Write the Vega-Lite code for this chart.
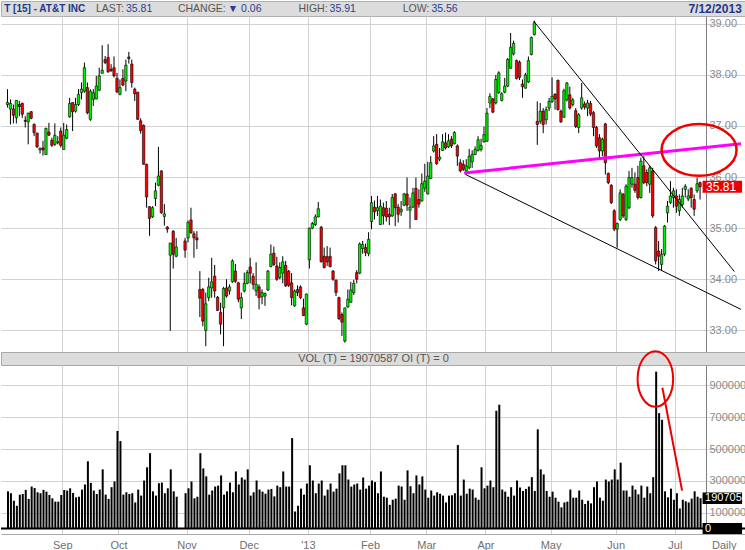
{
"$schema":"https://vega.github.io/schema/vega-lite/v6.json",
"padding":0,"background":"white","spacing":0,"bounds":"flush",
"config":{"view":{"stroke":null},"axis":{"labelFont":"Liberation Sans","titleFont":"Liberation Sans"},"text":{"font":"Liberation Sans"}},
"datasets":{
"hdr":[{"key":"name","lab":"T [15] - AT&T INC"},{"key":"last","lab":"LAST:","val":"35.81"},{"key":"change","lab":"CHANGE:","val":"▼ 0.06"},{"key":"high","lab":"HIGH:","val":"35.91"},{"key":"low","lab":"LOW:","val":"35.56"},{"key":"date","lab":"7/12/2013"}],
"volhdr":[{"t":"VOL (T) = 19070587 OI (T) = 0"}],
"pink":[{"i":155.3,"p":36.08},{"i":248.83,"p":36.65}],
"trend":[{"id":"a","i":178.83,"p":39.05},{"id":"a","i":246.6,"p":34.15},{"id":"b","i":155.8,"p":36.05},{"id":"b","i":248.83,"p":33.41}],
"ring":[{"i":234.67,"p":36.53}],
"vring":[{"i":219.9,"v":941000}],
"varrow":[{"i":222.27,"v":885500},{"i":228.93,"v":238500}],
"oi":[{"i":235,"oi":0}],
"ohlc":[
{"d":"2012-08-07","o":37.42,"h":37.72,"l":37.36,"c":37.46,"v":234000},
{"d":"2012-08-08","o":37.33,"h":37.52,"l":37.03,"c":37.44,"v":222000},
{"d":"2012-08-09","o":37.33,"h":37.42,"l":37.05,"c":37.21,"v":175000},
{"d":"2012-08-10","o":37.16,"h":37.5,"l":37.05,"c":37.5,"v":143000},
{"d":"2012-08-13","o":37.42,"h":37.49,"l":37.19,"c":37.38,"v":213000},
{"d":"2012-08-14","o":37.44,"h":37.46,"l":37.16,"c":37.23,"v":217000},
{"d":"2012-08-15","o":37.11,"h":37.19,"l":36.97,"c":37.09,"v":243000},
{"d":"2012-08-16","o":37.08,"h":37.26,"l":36.64,"c":37.25,"v":186000},
{"d":"2012-08-17","o":37.28,"h":37.29,"l":37.13,"c":37.15,"v":264000},
{"d":"2012-08-20","o":37.03,"h":37.05,"l":36.8,"c":36.87,"v":255000},
{"d":"2012-08-21","o":36.86,"h":36.87,"l":36.57,"c":36.59,"v":228000},
{"d":"2012-08-22","o":36.53,"h":36.58,"l":36.46,"c":36.56,"v":222000},
{"d":"2012-08-23","o":36.57,"h":36.71,"l":36.42,"c":36.53,"v":243000},
{"d":"2012-08-24","o":36.44,"h":36.97,"l":36.44,"c":36.95,"v":232000},
{"d":"2012-08-27","o":36.88,"h":37.06,"l":36.8,"c":36.82,"v":211000},
{"d":"2012-08-28","o":36.72,"h":36.77,"l":36.59,"c":36.62,"v":190000},
{"d":"2012-08-29","o":36.64,"h":37.05,"l":36.61,"c":36.82,"v":169000},
{"d":"2012-08-30","o":36.67,"h":36.8,"l":36.64,"c":36.69,"v":169000},
{"d":"2012-08-31","o":36.9,"h":36.97,"l":36.58,"c":36.62,"v":211000},
{"d":"2012-09-04","o":36.54,"h":37.06,"l":36.54,"c":36.82,"v":243000},
{"d":"2012-09-05","o":36.76,"h":37.03,"l":36.74,"c":36.93,"v":239000},
{"d":"2012-09-06","o":37.18,"h":37.55,"l":37.16,"c":37.44,"v":253000},
{"d":"2012-09-07","o":37.46,"h":37.46,"l":36.9,"c":37.28,"v":224000},
{"d":"2012-09-10","o":37.29,"h":37.55,"l":37.26,"c":37.42,"v":196000},
{"d":"2012-09-11","o":37.42,"h":37.72,"l":37.39,"c":37.62,"v":200000},
{"d":"2012-09-12","o":37.65,"h":37.85,"l":37.52,"c":37.72,"v":245000},
{"d":"2012-09-13","o":37.68,"h":38.24,"l":37.65,"c":38.14,"v":277000},
{"d":"2012-09-14","o":37.75,"h":37.85,"l":37.23,"c":37.26,"v":423000},
{"d":"2012-09-17","o":37.13,"h":37.72,"l":37.1,"c":37.68,"v":287000},
{"d":"2012-09-18","o":37.52,"h":37.72,"l":37.39,"c":37.65,"v":239000},
{"d":"2012-09-19","o":37.53,"h":37.98,"l":37.52,"c":37.78,"v":217000},
{"d":"2012-09-20","o":37.7,"h":38.14,"l":37.68,"c":37.98,"v":245000},
{"d":"2012-09-21","o":38.03,"h":38.58,"l":38.03,"c":38.09,"v":372000},
{"d":"2012-09-24","o":38.3,"h":38.37,"l":38.21,"c":38.24,"v":213000},
{"d":"2012-09-25","o":38.34,"h":38.6,"l":38.04,"c":38.06,"v":186000},
{"d":"2012-09-26","o":38.11,"h":38.21,"l":38.06,"c":38.08,"v":260000},
{"d":"2012-09-27","o":38.14,"h":38.36,"l":37.95,"c":37.98,"v":296000},
{"d":"2012-09-28","o":37.93,"h":38.04,"l":37.64,"c":37.67,"v":614000},
{"d":"2012-10-01","o":37.62,"h":37.91,"l":37.6,"c":37.75,"v":550000},
{"d":"2012-10-02","o":37.93,"h":38.11,"l":37.78,"c":37.8,"v":213000},
{"d":"2012-10-03","o":37.88,"h":38.3,"l":37.68,"c":38.19,"v":228000},
{"d":"2012-10-04","o":38.35,"h":38.45,"l":38.22,"c":38.32,"v":217000},
{"d":"2012-10-05","o":38.21,"h":38.3,"l":37.75,"c":37.85,"v":222000},
{"d":"2012-10-08","o":37.72,"h":37.75,"l":37.49,"c":37.63,"v":164000},
{"d":"2012-10-09","o":37.66,"h":37.67,"l":37.12,"c":37.13,"v":245000},
{"d":"2012-10-10","o":37.1,"h":37.15,"l":36.85,"c":36.91,"v":207000},
{"d":"2012-10-11","o":37.01,"h":37.03,"l":36.24,"c":36.25,"v":302000},
{"d":"2012-10-12","o":36.25,"h":36.26,"l":35.4,"c":35.61,"v":385000},
{"d":"2012-10-15","o":35.42,"h":35.43,"l":34.85,"c":35.19,"v":474000},
{"d":"2012-10-16","o":35.22,"h":35.43,"l":35.2,"c":35.4,"v":234000},
{"d":"2012-10-17","o":35.58,"h":35.89,"l":35.43,"c":35.73,"v":207000},
{"d":"2012-10-18","o":35.84,"h":36.59,"l":35.82,"c":36.02,"v":285000},
{"d":"2012-10-19","o":36.12,"h":36.13,"l":35.28,"c":35.3,"v":289000},
{"d":"2012-10-22","o":35.23,"h":35.47,"l":35.05,"c":35.28,"v":222000},
{"d":"2012-10-23","o":35.02,"h":35.04,"l":34.91,"c":34.98,"v":253000},
{"d":"2012-10-24","o":34.47,"h":34.71,"l":32.99,"c":34.71,"v":372000},
{"d":"2012-10-25","o":34.94,"h":34.96,"l":34.21,"c":34.49,"v":234000},
{"d":"2012-10-26","o":34.45,"h":34.81,"l":34.43,"c":34.63,"v":200000},
{"d":"2012-10-29","o":null,"h":null,"l":null,"c":null,"v":null},
{"d":"2012-10-30","o":null,"h":null,"l":null,"c":null,"v":null},
{"d":"2012-10-31","o":34.75,"h":34.81,"l":34.42,"c":34.57,"v":222000},
{"d":"2012-11-01","o":34.81,"h":35.15,"l":34.72,"c":35.11,"v":253000},
{"d":"2012-11-02","o":35.16,"h":35.4,"l":34.89,"c":34.91,"v":296000},
{"d":"2012-11-05","o":34.89,"h":34.94,"l":34.42,"c":34.81,"v":190000},
{"d":"2012-11-06","o":34.81,"h":34.94,"l":34.59,"c":34.77,"v":200000},
{"d":"2012-11-07","o":33.8,"h":34.16,"l":33.26,"c":33.63,"v":474000},
{"d":"2012-11-08","o":33.8,"h":33.83,"l":33.08,"c":33.18,"v":378000},
{"d":"2012-11-09","o":33.0,"h":33.74,"l":32.69,"c":33.52,"v":328000},
{"d":"2012-11-12","o":33.64,"h":34.03,"l":33.57,"c":33.85,"v":213000},
{"d":"2012-11-13","o":33.83,"h":34.42,"l":33.64,"c":33.95,"v":239000},
{"d":"2012-11-14","o":34.06,"h":34.28,"l":33.64,"c":33.77,"v":264000},
{"d":"2012-11-15","o":33.65,"h":33.67,"l":33.38,"c":33.39,"v":270000},
{"d":"2012-11-16","o":33.35,"h":33.54,"l":32.92,"c":33.12,"v":334000},
{"d":"2012-11-19","o":33.44,"h":33.85,"l":32.69,"c":33.82,"v":213000},
{"d":"2012-11-20","o":33.83,"h":34.0,"l":33.64,"c":33.67,"v":234000},
{"d":"2012-11-21","o":33.77,"h":33.9,"l":33.7,"c":33.85,"v":289000},
{"d":"2012-11-23","o":33.95,"h":34.39,"l":33.93,"c":34.36,"v":228000},
{"d":"2012-11-26","o":34.16,"h":34.3,"l":33.93,"c":33.96,"v":359000},
{"d":"2012-11-27","o":33.93,"h":33.95,"l":33.55,"c":33.61,"v":277000},
{"d":"2012-11-28","o":33.44,"h":33.74,"l":33.22,"c":33.64,"v":321000},
{"d":"2012-11-29","o":33.77,"h":34.13,"l":33.74,"c":33.92,"v":308000},
{"d":"2012-11-30","o":33.92,"h":34.18,"l":33.9,"c":34.13,"v":372000},
{"d":"2012-12-03","o":34.24,"h":34.42,"l":33.92,"c":34.12,"v":207000},
{"d":"2012-12-04","o":34.06,"h":34.12,"l":33.8,"c":33.9,"v":228000},
{"d":"2012-12-05","o":33.77,"h":34.33,"l":33.67,"c":33.9,"v":302000},
{"d":"2012-12-06","o":33.85,"h":33.9,"l":33.41,"c":33.64,"v":245000},
{"d":"2012-12-07","o":33.66,"h":33.8,"l":33.51,"c":33.74,"v":232000},
{"d":"2012-12-10","o":33.67,"h":33.74,"l":33.48,"c":33.72,"v":219000},
{"d":"2012-12-11","o":33.79,"h":34.18,"l":33.77,"c":34.16,"v":245000},
{"d":"2012-12-12","o":34.25,"h":34.68,"l":34.23,"c":34.49,"v":249000},
{"d":"2012-12-13","o":34.51,"h":34.64,"l":34.26,"c":34.29,"v":202000},
{"d":"2012-12-14","o":34.26,"h":34.44,"l":33.97,"c":34.0,"v":270000},
{"d":"2012-12-17","o":34.03,"h":34.33,"l":34.0,"c":34.23,"v":260000},
{"d":"2012-12-18","o":34.12,"h":34.45,"l":33.92,"c":34.34,"v":359000},
{"d":"2012-12-19","o":34.27,"h":34.36,"l":33.85,"c":33.87,"v":264000},
{"d":"2012-12-20","o":34.16,"h":34.18,"l":33.85,"c":33.88,"v":264000},
{"d":"2012-12-21","o":33.93,"h":34.12,"l":33.49,"c":33.64,"v":569000},
{"d":"2012-12-24","o":33.48,"h":33.8,"l":33.46,"c":33.77,"v":107000},
{"d":"2012-12-26","o":33.8,"h":33.88,"l":33.67,"c":33.74,"v":143000},
{"d":"2012-12-27","o":33.85,"h":33.88,"l":33.61,"c":33.64,"v":251000},
{"d":"2012-12-28","o":33.44,"h":33.62,"l":33.28,"c":33.29,"v":213000},
{"d":"2012-12-31","o":33.12,"h":33.72,"l":33.1,"c":33.71,"v":283000},
{"d":"2013-01-02","o":34.38,"h":35.01,"l":34.21,"c":35.0,"v":398000},
{"d":"2013-01-03","o":35.0,"h":35.12,"l":34.98,"c":35.09,"v":302000},
{"d":"2013-01-04","o":35.07,"h":35.27,"l":35.04,"c":35.22,"v":222000},
{"d":"2013-01-07","o":35.22,"h":35.51,"l":35.21,"c":35.38,"v":283000},
{"d":"2013-01-08","o":35.02,"h":35.04,"l":34.33,"c":34.34,"v":302000},
{"d":"2013-01-09","o":34.45,"h":34.62,"l":34.21,"c":34.23,"v":207000},
{"d":"2013-01-10","o":34.44,"h":34.65,"l":34.26,"c":34.34,"v":245000},
{"d":"2013-01-11","o":34.45,"h":34.62,"l":34.23,"c":34.25,"v":283000},
{"d":"2013-01-14","o":34.16,"h":34.18,"l":33.97,"c":34.0,"v":232000},
{"d":"2013-01-15","o":33.98,"h":34.0,"l":33.67,"c":33.74,"v":251000},
{"d":"2013-01-16","o":33.64,"h":33.66,"l":33.2,"c":33.23,"v":347000},
{"d":"2013-01-17","o":33.31,"h":33.35,"l":32.89,"c":33.16,"v":398000},
{"d":"2013-01-18","o":32.79,"h":33.44,"l":32.76,"c":33.44,"v":398000},
{"d":"2013-01-22","o":33.46,"h":33.8,"l":33.44,"c":33.61,"v":308000},
{"d":"2013-01-23","o":33.55,"h":33.95,"l":33.54,"c":33.79,"v":264000},
{"d":"2013-01-24","o":33.74,"h":33.99,"l":33.69,"c":33.92,"v":277000},
{"d":"2013-01-25","o":34.13,"h":34.18,"l":33.92,"c":34.0,"v":283000},
{"d":"2013-01-28","o":34.12,"h":34.72,"l":34.1,"c":34.69,"v":245000},
{"d":"2013-01-29","o":34.6,"h":34.75,"l":34.5,"c":34.68,"v":321000},
{"d":"2013-01-30","o":34.62,"h":34.7,"l":34.45,"c":34.52,"v":251000},
{"d":"2013-01-31","o":34.5,"h":34.92,"l":34.45,"c":34.78,"v":270000},
{"d":"2013-02-01","o":35.13,"h":35.63,"l":34.98,"c":35.5,"v":302000},
{"d":"2013-02-04","o":35.41,"h":35.54,"l":35.17,"c":35.32,"v":292000},
{"d":"2013-02-05","o":35.34,"h":35.63,"l":35.24,"c":35.4,"v":222000},
{"d":"2013-02-06","o":35.07,"h":35.56,"l":35.06,"c":35.43,"v":359000},
{"d":"2013-02-07","o":35.4,"h":35.5,"l":35.07,"c":35.24,"v":200000},
{"d":"2013-02-08","o":35.39,"h":35.53,"l":35.13,"c":35.22,"v":194000},
{"d":"2013-02-11","o":35.27,"h":35.4,"l":35.06,"c":35.22,"v":149000},
{"d":"2013-02-12","o":35.24,"h":35.67,"l":35.22,"c":35.6,"v":181000},
{"d":"2013-02-13","o":35.67,"h":35.69,"l":35.04,"c":35.4,"v":188000},
{"d":"2013-02-14","o":35.41,"h":35.47,"l":35.11,"c":35.27,"v":270000},
{"d":"2013-02-15","o":35.32,"h":35.53,"l":35.24,"c":35.37,"v":264000},
{"d":"2013-02-19","o":35.45,"h":35.69,"l":35.43,"c":35.67,"v":181000},
{"d":"2013-02-20","o":35.67,"h":35.99,"l":35.34,"c":35.45,"v":366000},
{"d":"2013-02-21","o":35.35,"h":35.6,"l":34.99,"c":35.41,"v":266000},
{"d":"2013-02-22","o":35.41,"h":35.79,"l":35.4,"c":35.69,"v":222000},
{"d":"2013-02-25","o":35.78,"h":35.99,"l":35.16,"c":35.17,"v":334000},
{"d":"2013-02-26","o":35.56,"h":35.76,"l":35.4,"c":35.47,"v":277000},
{"d":"2013-02-27","o":35.53,"h":36.07,"l":35.52,"c":35.87,"v":328000},
{"d":"2013-02-28","o":35.78,"h":36.26,"l":35.71,"c":35.92,"v":245000},
{"d":"2013-03-01","o":35.67,"h":36.3,"l":35.66,"c":36.02,"v":194000},
{"d":"2013-03-04","o":35.97,"h":36.41,"l":35.96,"c":36.28,"v":239000},
{"d":"2013-03-05","o":36.51,"h":36.8,"l":36.48,"c":36.61,"v":207000},
{"d":"2013-03-06","o":36.64,"h":36.84,"l":36.24,"c":36.26,"v":228000},
{"d":"2013-03-07","o":36.35,"h":36.57,"l":36.31,"c":36.39,"v":219000},
{"d":"2013-03-08","o":36.52,"h":36.84,"l":36.51,"c":36.69,"v":207000},
{"d":"2013-03-11","o":36.67,"h":36.87,"l":36.54,"c":36.57,"v":164000},
{"d":"2013-03-12","o":36.59,"h":36.84,"l":36.57,"c":36.71,"v":207000},
{"d":"2013-03-13","o":36.74,"h":36.8,"l":36.57,"c":36.61,"v":209000},
{"d":"2013-03-14","o":36.65,"h":36.9,"l":36.64,"c":36.87,"v":222000},
{"d":"2013-03-15","o":36.61,"h":36.64,"l":36.22,"c":36.41,"v":525000},
{"d":"2013-03-18","o":36.28,"h":36.35,"l":36.09,"c":36.12,"v":207000},
{"d":"2013-03-19","o":36.25,"h":36.33,"l":36.12,"c":36.15,"v":308000},
{"d":"2013-03-20","o":36.12,"h":36.35,"l":36.05,"c":36.22,"v":219000},
{"d":"2013-03-21","o":36.18,"h":36.55,"l":36.15,"c":36.41,"v":251000},
{"d":"2013-03-22","o":36.3,"h":36.52,"l":36.18,"c":36.44,"v":245000},
{"d":"2013-03-25","o":36.44,"h":36.6,"l":36.43,"c":36.54,"v":194000},
{"d":"2013-03-26","o":36.52,"h":36.8,"l":36.5,"c":36.73,"v":181000},
{"d":"2013-03-27","o":36.54,"h":36.75,"l":36.5,"c":36.62,"v":385000},
{"d":"2013-03-28","o":36.69,"h":36.99,"l":36.67,"c":36.83,"v":253000},
{"d":"2013-04-01","o":36.7,"h":37.35,"l":36.69,"c":37.25,"v":270000},
{"d":"2013-04-02","o":37.45,"h":37.64,"l":37.35,"c":37.58,"v":302000},
{"d":"2013-04-03","o":37.53,"h":37.55,"l":37.25,"c":37.27,"v":260000},
{"d":"2013-04-04","o":37.45,"h":38.0,"l":37.42,"c":37.91,"v":741000},
{"d":"2013-04-05","o":37.65,"h":38.07,"l":37.63,"c":38.04,"v":779000},
{"d":"2013-04-08","o":37.5,"h":37.66,"l":37.48,"c":37.63,"v":245000},
{"d":"2013-04-09","o":37.66,"h":37.94,"l":37.64,"c":37.78,"v":232000},
{"d":"2013-04-10","o":37.78,"h":38.33,"l":37.76,"c":38.3,"v":200000},
{"d":"2013-04-11","o":38.13,"h":38.82,"l":38.12,"c":38.54,"v":260000},
{"d":"2013-04-12","o":38.41,"h":38.67,"l":38.38,"c":38.62,"v":207000},
{"d":"2013-04-15","o":38.28,"h":38.3,"l":37.91,"c":37.93,"v":302000},
{"d":"2013-04-16","o":38.25,"h":38.28,"l":37.9,"c":37.95,"v":258000},
{"d":"2013-04-17","o":37.82,"h":37.91,"l":37.55,"c":37.77,"v":236000},
{"d":"2013-04-18","o":37.74,"h":38.04,"l":37.73,"c":38.0,"v":249000},
{"d":"2013-04-19","o":37.86,"h":38.36,"l":37.84,"c":38.28,"v":264000},
{"d":"2013-04-22","o":38.4,"h":38.75,"l":38.38,"c":38.73,"v":323000},
{"d":"2013-04-23","o":38.79,"h":39.06,"l":38.77,"c":39.02,"v":236000},
{"d":"2013-04-24","o":37.09,"h":37.48,"l":36.63,"c":37.03,"v":624000},
{"d":"2013-04-25","o":37.09,"h":37.45,"l":37.04,"c":37.29,"v":372000},
{"d":"2013-04-26","o":37.29,"h":37.35,"l":36.86,"c":37.03,"v":340000},
{"d":"2013-04-29","o":37.12,"h":37.38,"l":37.03,"c":37.32,"v":236000},
{"d":"2013-04-30","o":37.35,"h":37.55,"l":37.29,"c":37.48,"v":200000},
{"d":"2013-05-01","o":37.48,"h":37.95,"l":37.45,"c":37.58,"v":232000},
{"d":"2013-05-02","o":37.62,"h":37.64,"l":37.32,"c":37.53,"v":194000},
{"d":"2013-05-03","o":37.89,"h":37.91,"l":37.3,"c":37.32,"v":169000},
{"d":"2013-05-06","o":37.29,"h":37.32,"l":37.06,"c":37.08,"v":133000},
{"d":"2013-05-07","o":37.17,"h":37.73,"l":37.16,"c":37.69,"v":164000},
{"d":"2013-05-08","o":37.51,"h":37.86,"l":37.48,"c":37.84,"v":169000},
{"d":"2013-05-09","o":37.61,"h":37.77,"l":37.32,"c":37.35,"v":245000},
{"d":"2013-05-10","o":37.42,"h":37.55,"l":37.38,"c":37.51,"v":194000},
{"d":"2013-05-13","o":37.3,"h":37.35,"l":36.96,"c":36.99,"v":194000},
{"d":"2013-05-14","o":36.97,"h":37.25,"l":36.86,"c":37.22,"v":239000},
{"d":"2013-05-15","o":37.35,"h":37.84,"l":37.32,"c":37.55,"v":181000},
{"d":"2013-05-16","o":37.43,"h":37.48,"l":37.32,"c":37.37,"v":154000},
{"d":"2013-05-17","o":37.35,"h":37.51,"l":37.19,"c":37.45,"v":175000},
{"d":"2013-05-20","o":37.44,"h":37.49,"l":37.19,"c":37.23,"v":158000},
{"d":"2013-05-21","o":37.26,"h":37.29,"l":36.8,"c":36.97,"v":260000},
{"d":"2013-05-22","o":36.97,"h":37.0,"l":36.57,"c":36.61,"v":296000},
{"d":"2013-05-23","o":36.77,"h":36.84,"l":36.35,"c":36.51,"v":194000},
{"d":"2013-05-24","o":36.51,"h":36.77,"l":36.41,"c":36.74,"v":175000},
{"d":"2013-05-28","o":37.04,"h":37.06,"l":36.05,"c":36.28,"v":308000},
{"d":"2013-05-29","o":36.07,"h":36.09,"l":35.86,"c":35.89,"v":296000},
{"d":"2013-05-30","o":35.84,"h":35.86,"l":35.47,"c":35.5,"v":308000},
{"d":"2013-05-31","o":35.34,"h":35.37,"l":34.94,"c":34.98,"v":372000},
{"d":"2013-06-03","o":34.98,"h":35.11,"l":34.62,"c":35.09,"v":308000},
{"d":"2013-06-04","o":35.17,"h":35.76,"l":35.14,"c":35.69,"v":414000},
{"d":"2013-06-05","o":35.66,"h":35.69,"l":35.2,"c":35.24,"v":239000},
{"d":"2013-06-06","o":35.17,"h":35.86,"l":35.14,"c":35.82,"v":239000},
{"d":"2013-06-07","o":35.4,"h":36.12,"l":35.37,"c":35.99,"v":200000},
{"d":"2013-06-10","o":35.86,"h":36.18,"l":35.79,"c":35.99,"v":270000},
{"d":"2013-06-11","o":35.86,"h":36.09,"l":35.69,"c":35.74,"v":245000},
{"d":"2013-06-12","o":35.99,"h":36.22,"l":35.56,"c":35.6,"v":215000},
{"d":"2013-06-13","o":35.6,"h":36.38,"l":35.58,"c":36.31,"v":270000},
{"d":"2013-06-14","o":36.22,"h":36.41,"l":35.86,"c":35.89,"v":194000},
{"d":"2013-06-17","o":36.09,"h":36.15,"l":35.82,"c":35.89,"v":264000},
{"d":"2013-06-18","o":35.86,"h":36.22,"l":35.69,"c":36.18,"v":222000},
{"d":"2013-06-19","o":36.12,"h":36.18,"l":35.2,"c":35.24,"v":323000},
{"d":"2013-06-20","o":35.01,"h":35.04,"l":34.29,"c":34.36,"v":987000},
{"d":"2013-06-21","o":34.55,"h":34.75,"l":34.16,"c":34.45,"v":726000},
{"d":"2013-06-24","o":34.29,"h":34.59,"l":34.16,"c":34.49,"v":684000},
{"d":"2013-06-25","o":34.49,"h":35.06,"l":34.45,"c":35.04,"v":234000},
{"d":"2013-06-26","o":35.3,"h":35.53,"l":35.11,"c":35.43,"v":196000},
{"d":"2013-06-27","o":35.5,"h":35.92,"l":35.47,"c":35.63,"v":251000},
{"d":"2013-06-28","o":35.6,"h":35.79,"l":35.4,"c":35.73,"v":181000},
{"d":"2013-07-01","o":35.63,"h":35.76,"l":35.3,"c":35.43,"v":222000},
{"d":"2013-07-02","o":35.34,"h":35.66,"l":35.24,"c":35.56,"v":126000},
{"d":"2013-07-03","o":35.46,"h":35.79,"l":35.4,"c":35.63,"v":181000},
{"d":"2013-07-05","o":35.76,"h":35.86,"l":35.6,"c":35.82,"v":171000},
{"d":"2013-07-08","o":35.57,"h":35.76,"l":35.53,"c":35.63,"v":164000},
{"d":"2013-07-09","o":35.78,"h":35.8,"l":35.4,"c":35.6,"v":188000},
{"d":"2013-07-10","o":35.56,"h":35.66,"l":35.24,"c":35.37,"v":234000},
{"d":"2013-07-11","o":35.73,"h":35.99,"l":35.69,"c":35.87,"v":200000},
{"d":"2013-07-12","o":35.89,"h":35.91,"l":35.56,"c":35.81,"v":190705}
]},
"vconcat":[
{"width":745,"height":15,"view":{"fill":"#dcdcdc","stroke":"#b0b0b0"},
 "data":{"name":"hdr"},
 "layer":[
  {"transform":[{"filter":"datum.key == 'name'"}],
   "mark":{"type":"text","align":"left","dx":-13,"fontWeight":"bold","fontSize":10,"color":"#22378a"},
   "encoding":{"x":{"field":"key","type":"nominal","scale":{"type":"point","domain":["name","last","change","high","low","g5","g6","date"],"padding":0.159},"axis":null},"text":{"field":"lab"}}},
  {"transform":[{"filter":"datum.val != null"}],
   "mark":{"type":"text","align":"right","dx":5,"fontSize":10.5,"color":"#555555"},
   "encoding":{"x":{"field":"key","type":"nominal","scale":{"type":"point","domain":["name","last","change","high","low","g5","g6","date"],"padding":0.159},"axis":null},"text":{"field":"lab"}}},
  {"transform":[{"filter":"datum.val != null"}],
   "mark":{"type":"text","align":"left","dx":7,"fontSize":10.5,"color":"#2a3c94"},
   "encoding":{"x":{"field":"key","type":"nominal","scale":{"type":"point","domain":["name","last","change","high","low","g5","g6","date"],"padding":0.159},"axis":null},"text":{"field":"val"}}},
  {"transform":[{"filter":"datum.key == 'date'"}],
   "mark":{"type":"text","align":"right","dx":12,"fontWeight":"bold","fontSize":12,"color":"#22378a"},
   "encoding":{"x":{"field":"key","type":"nominal","scale":{"type":"point","domain":["name","last","change","high","low","g5","g6","date"],"padding":0.159},"axis":null},"text":{"field":"lab"}}}
 ]},
{"width":745,"height":336,
 "layer":[
  {"data":{"name":"ohlc"},"transform":[{"window":[{"op":"row_number","as":"i"}]},{"filter":"datum.o != null"}],
   "mark":{"type":"rule","color":"#000000","strokeWidth":1},
   "encoding":{
    "x":{"field":"i","type":"quantitative","scale":{"domain":[0.5,248.8333],"nice":false,"zero":false},
         "axis":{"values":[19.5,38.5,61.5,82.5,102.5,123.5,142.5,162.5,184.5,206.5,226.5],"grid":true,"gridColor":"#d2d2d2","labels":false,"ticks":false,"domain":false,"title":null}},
    "y":{"field":"l","type":"quantitative","scale":{"domain":[32.576,39.152],"nice":false,"zero":false},
         "axis":{"orient":"right","offset":-40,"values":[33,33.5,34,34.5,35,35.5,36,36.5,37,37.5,38,38.5,39],"format":".2f","grid":true,"gridColor":"#d2d2d2","ticks":false,"domain":true,"domainColor":"#808080","labelColor":"#8a8a8a","labelFontSize":11,"labelPadding":3,"title":null}},
    "y2":{"field":"h"}}},
  {"data":{"name":"ohlc"},"transform":[{"window":[{"op":"row_number","as":"i"}]},{"filter":"datum.o != null"}],
   "mark":{"type":"bar","width":2.4,"stroke":"#000000","strokeWidth":0.6,"opacity":1},
   "encoding":{
    "x":{"field":"i","type":"quantitative","scale":{"domain":[0.5,248.8333],"nice":false,"zero":false}},
    "y":{"field":"o","type":"quantitative","scale":{"domain":[32.576,39.152],"nice":false,"zero":false}},
    "y2":{"field":"c"},
    "fill":{"condition":{"test":"datum.c >= datum.o","value":"#00f000"},"value":"#ff0000"}}},
  {"data":{"name":"pink"},"mark":{"type":"line","color":"#ff00ff","strokeWidth":3},
   "encoding":{"x":{"field":"i","type":"quantitative","scale":{"domain":[0.5,248.8333],"nice":false,"zero":false}},
    "y":{"field":"p","type":"quantitative","scale":{"domain":[32.576,39.152],"nice":false,"zero":false}}}},
  {"data":{"name":"trend"},"mark":{"type":"line","color":"#000000","strokeWidth":1},
   "encoding":{"x":{"field":"i","type":"quantitative","scale":{"domain":[0.5,248.8333],"nice":false,"zero":false}},
    "y":{"field":"p","type":"quantitative","scale":{"domain":[32.576,39.152],"nice":false,"zero":false}},
    "detail":{"field":"id"}}},
  {"data":{"name":"ring"},"mark":{"type":"point","filled":false,"color":"#ee0000","strokeWidth":2.5,"opacity":1,"size":5625,
    "shape":"M-1,0 C-1,-0.381 -0.552,-0.69 0,-0.69 C0.552,-0.69 1,-0.381 1,0 C1,0.381 0.552,0.69 0,0.69 C-0.552,0.69 -1,0.381 -1,0 Z"},
   "encoding":{"x":{"field":"i","type":"quantitative","scale":{"domain":[0.5,248.8333],"nice":false,"zero":false}},
    "y":{"field":"p","type":"quantitative","scale":{"domain":[32.576,39.152],"nice":false,"zero":false}}}},
  {"data":{"name":"ohlc"},"transform":[{"window":[{"op":"row_number","as":"i"}]},{"filter":"datum.i == 235"}],
   "mark":{"type":"point","filled":true,"color":"#ee0000","opacity":1,"size":1600,"shape":"M0.125,-0.3L2.1,-0.3L2.1,0.3L0.125,0.3Z"},
   "encoding":{"x":{"field":"i","type":"quantitative","scale":{"domain":[0.5,248.8333],"nice":false,"zero":false}},
    "y":{"field":"c","type":"quantitative","scale":{"domain":[32.576,39.152],"nice":false,"zero":false}}}},
  {"data":{"name":"ohlc"},"transform":[{"window":[{"op":"row_number","as":"i"}]},{"filter":"datum.i == 235"}],
   "mark":{"type":"text","align":"left","dx":6,"fontSize":12,"color":"#ffffff"},
   "encoding":{"x":{"field":"i","type":"quantitative","scale":{"domain":[0.5,248.8333],"nice":false,"zero":false}},
    "y":{"field":"c","type":"quantitative","scale":{"domain":[32.576,39.152],"nice":false,"zero":false}},
    "text":{"field":"c","format":".2f"}}}
 ]},
{"width":745,"height":13,"view":{"fill":"#dcdcdc","stroke":"#a8a8a8"},
 "data":{"name":"volhdr"},
 "mark":{"type":"text","fontSize":11,"color":"#555555"},
 "encoding":{"text":{"field":"t"}}},
{"width":745,"height":169,
 "layer":[
  {"data":{"name":"ohlc"},"transform":[{"window":[{"op":"row_number","as":"i"}]},{"filter":"datum.v != null"}],
   "mark":{"type":"bar","width":2,"xOffset":0.5,"color":"#000000","opacity":1},
   "encoding":{
    "x":{"field":"i","type":"quantitative","scale":{"domain":[0.5,248.8333],"nice":false,"zero":false},
         "axis":{"values":[19.5,38.5,61.5,82.5,102.5,123.5,142.5,162.5,184.5,206.5,226.5],
          "labelExpr":"datum.value < 20 ? 'Sep' : datum.value < 39 ? 'Oct' : datum.value < 62 ? 'Nov' : datum.value < 83 ? 'Dec' : datum.value < 103 ? \"'13\" : datum.value < 124 ? 'Feb' : datum.value < 143 ? 'Mar' : datum.value < 163 ? 'Apr' : datum.value < 185 ? 'May' : datum.value < 207 ? 'Jun' : 'Jul'",
          "grid":true,"gridColor":"#d2d2d2","ticks":false,"domain":true,"domainColor":"#a8a8a8","labelColor":"#707070","labelFontSize":11,"labelPadding":5,"labelFlush":false,
          "title":"Daily","titleFontWeight":"normal","titleFontSize":11,"titleColor":"#707070","titleX":735,"titleY":5,"titleAlign":"right","titleBaseline":"top"}},
    "y":{"field":"v","type":"quantitative","scale":{"domain":[-34600,1028900],"nice":false},
         "axis":{"orient":"right","offset":-40,"values":[100000,200000,300000,400000,500000,600000,700000,800000,900000],"format":"d","grid":true,"gridColor":"#d2d2d2","ticks":false,"domain":true,"domainColor":"#808080","labelColor":"#8a8a8a","labelFontSize":11,"labelPadding":3,"title":null}},
    "y2":{"datum":0}}},
  {"data":{"values":[{}]},"mark":{"type":"rule","color":"#000000","strokeWidth":2},
   "encoding":{"y":{"datum":0,"type":"quantitative","scale":{"domain":[-34600,1028900],"nice":false}}}},
  {"data":{"name":"vring"},"mark":{"type":"point","filled":false,"color":"#ee0000","strokeWidth":2,"opacity":1,"size":3091,
    "shape":"M-0.64,0 C-0.64,-0.552 -0.353,-1 0,-1 C0.353,-1 0.64,-0.552 0.64,0 C0.64,0.552 0.353,1 0,1 C-0.353,1 -0.64,0.552 -0.64,0 Z"},
   "encoding":{"x":{"field":"i","type":"quantitative","scale":{"domain":[0.5,248.8333],"nice":false,"zero":false}},
    "y":{"field":"v","type":"quantitative","scale":{"domain":[-34600,1028900],"nice":false}}}},
  {"data":{"name":"varrow"},"mark":{"type":"line","color":"#ee0000","strokeWidth":2},
   "encoding":{"x":{"field":"i","type":"quantitative","scale":{"domain":[0.5,248.8333],"nice":false,"zero":false}},
    "y":{"field":"v","type":"quantitative","scale":{"domain":[-34600,1028900],"nice":false}}}},
  {"data":{"name":"ohlc"},"transform":[{"window":[{"op":"row_number","as":"i"}]},{"filter":"datum.i == 235"}],
   "mark":{"type":"point","filled":true,"color":"#000000","opacity":1,"size":1600,"shape":"M0.125,-0.29L2.1,-0.29L2.1,0.29L0.125,0.29Z"},
   "encoding":{"x":{"field":"i","type":"quantitative","scale":{"domain":[0.5,248.8333],"nice":false,"zero":false}},
    "y":{"field":"v","type":"quantitative","scale":{"domain":[-34600,1028900],"nice":false}}}},
  {"data":{"name":"ohlc"},"transform":[{"window":[{"op":"row_number","as":"i"}]},{"filter":"datum.i == 235"}],
   "mark":{"type":"text","align":"left","dx":5,"fontSize":11,"color":"#ffffff"},
   "encoding":{"x":{"field":"i","type":"quantitative","scale":{"domain":[0.5,248.8333],"nice":false,"zero":false}},
    "y":{"field":"v","type":"quantitative","scale":{"domain":[-34600,1028900],"nice":false}},
    "text":{"field":"v","format":"d"}}},
  {"data":{"name":"oi"},
   "mark":{"type":"point","filled":true,"color":"#000000","opacity":1,"size":1600,"shape":"M0.125,-0.28L2.1,-0.28L2.1,0.28L0.125,0.28Z"},
   "encoding":{"x":{"field":"i","type":"quantitative","scale":{"domain":[0.5,248.8333],"nice":false,"zero":false}},
    "y":{"field":"oi","type":"quantitative","scale":{"domain":[-34600,1028900],"nice":false}}}},
  {"data":{"name":"oi"},
   "mark":{"type":"text","align":"left","dx":5,"fontSize":11,"color":"#ffffff"},
   "encoding":{"x":{"field":"i","type":"quantitative","scale":{"domain":[0.5,248.8333],"nice":false,"zero":false}},
    "y":{"field":"oi","type":"quantitative","scale":{"domain":[-34600,1028900],"nice":false}},
    "text":{"field":"oi","format":"d"}}}
 ]}
]
}
